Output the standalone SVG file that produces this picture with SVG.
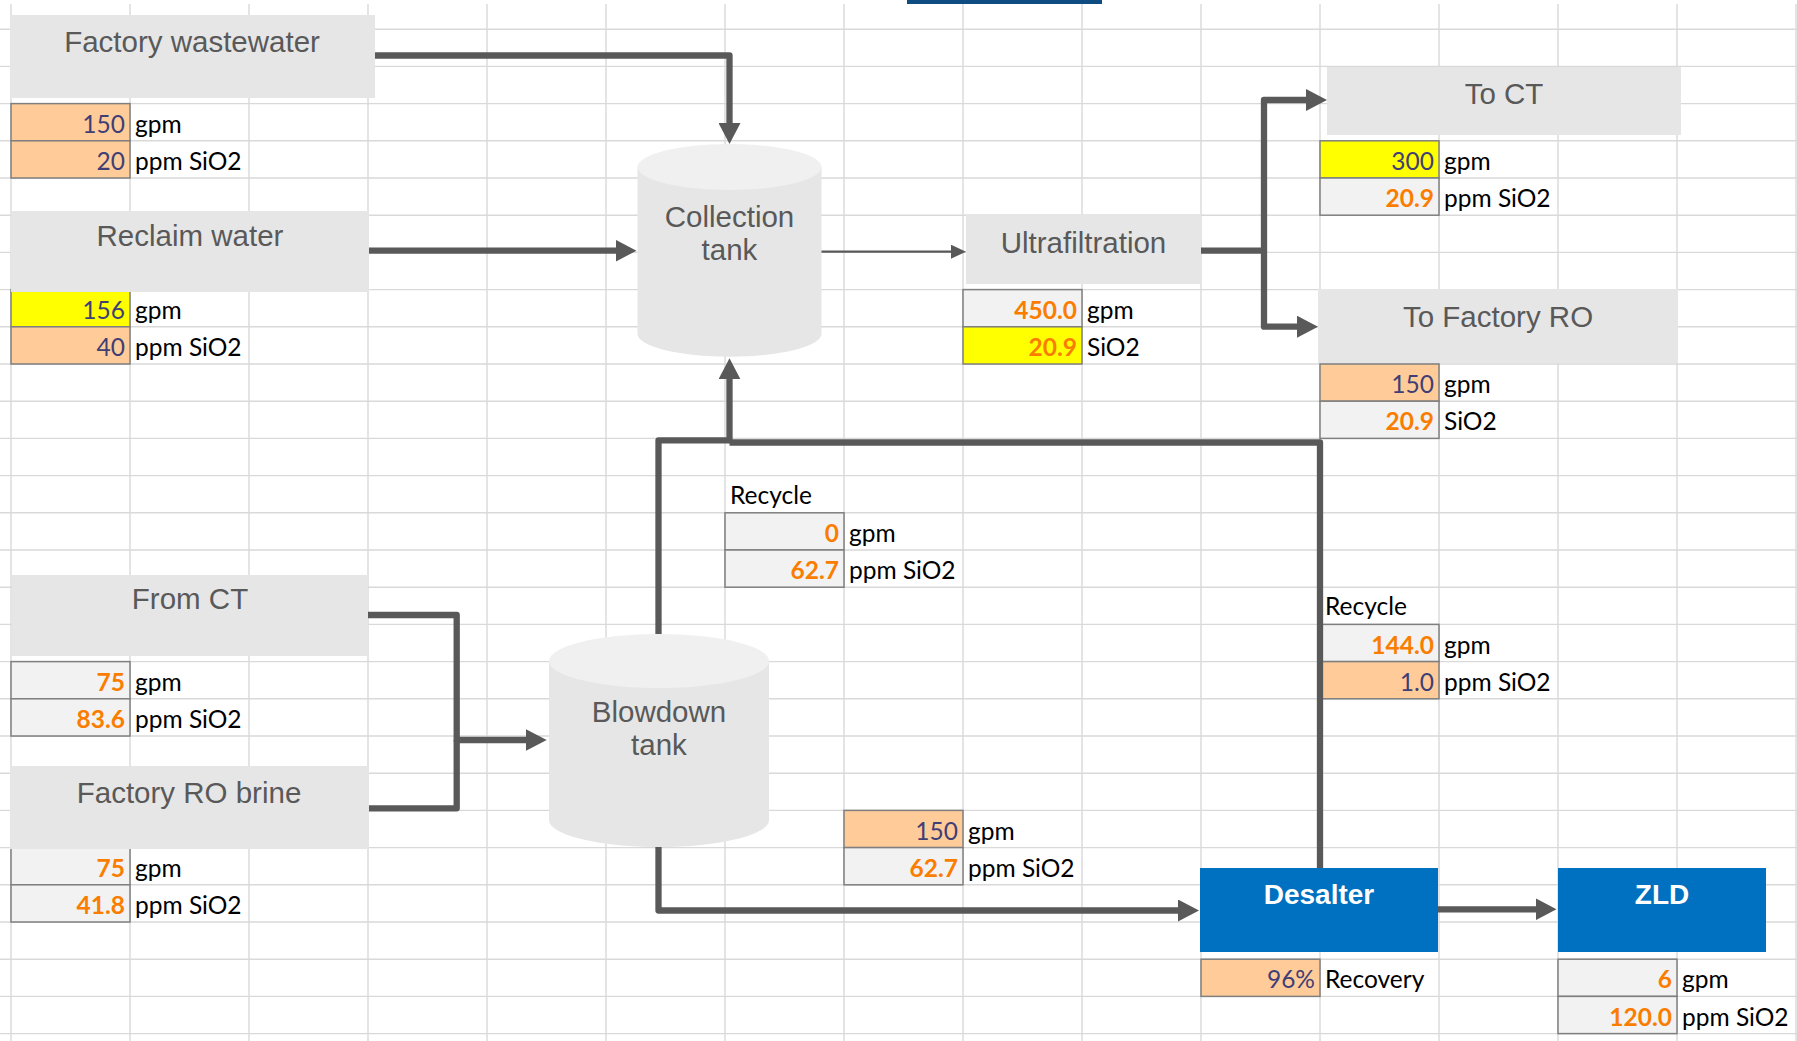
<svg xmlns="http://www.w3.org/2000/svg" width="1797" height="1041" viewBox="0 0 1797 1041">
<style>
.grid{fill:none;stroke:#D9D9D9;stroke-width:1.4}
.box{fill:#E6E6E6}
.top{fill:#F0F0F0}
.lbl{font-family:"Liberation Sans",Arial,sans-serif;font-size:29.5px;fill:#595959;text-anchor:middle}
.blue{fill:#0070C0}
.blt{font-family:"Liberation Sans",Arial,sans-serif;font-weight:bold;font-size:28px;fill:#FFFFFF;text-anchor:middle}
.inp{fill:#FFCC99;stroke:#7F7F7F;stroke-width:1.5}
.calc{fill:#F2F2F2;stroke:#7F7F7F;stroke-width:1.5}
.yel{fill:#FFFF00;stroke:#7F7F7F;stroke-width:1.5}
.ni{font-family:Lato,"Open Sans",sans-serif;font-size:24.5px;fill:#3F3F76;text-anchor:end}
.nc{font-family:Lato,"Open Sans",sans-serif;font-size:24.5px;fill:#FA7D00;font-weight:bold;text-anchor:end}
.u{font-family:Lato,"Open Sans",sans-serif;font-size:24.5px;fill:#000000}
.con{fill:none;stroke:#595959;stroke-width:6.3;stroke-linejoin:round}
.thin{fill:none;stroke:#595959;stroke-width:2.3}
</style>
<defs>
<marker id="ah" markerUnits="userSpaceOnUse" markerWidth="22" markerHeight="22" refX="11" refY="11" orient="auto">
<path d="M0,0 L21,11 L0,22 Z" fill="#595959"/>
</marker>
<marker id="ahs" markerUnits="userSpaceOnUse" markerWidth="16" markerHeight="14" refX="5" refY="7" orient="auto">
<path d="M0,0 L15,7 L0,14 Z" fill="#595959"/>
</marker>
</defs>
<rect x="0" y="0" width="1797" height="1041" fill="#FFFFFF"/>
<g id="grid" class="grid">
<path d="M11,4V1041M130,4V1041M249,4V1041M368,4V1041M487,4V1041M606,4V1041M725,4V1041M844,4V1041M963,4V1041M1082,4V1041M1201,4V1041M1320,4V1041M1439,4V1041M1558,4V1041M1677,4V1041M1796,4V1041"/>
<path d="M0,29.2H1797M0,66.4H1797M0,103.6H1797M0,140.8H1797M0,178H1797M0,215.2H1797M0,252.4H1797M0,289.6H1797M0,326.8H1797M0,364H1797M0,401.2H1797M0,438.4H1797M0,475.6H1797M0,512.8H1797M0,550H1797M0,587.2H1797M0,624.4H1797M0,661.6H1797M0,698.8H1797M0,736H1797M0,773.2H1797M0,810.4H1797M0,847.6H1797M0,884.8H1797M0,922H1797M0,959.2H1797M0,996.4H1797M0,1033.6H1797"/>
</g>
<rect x="907" y="0" width="195" height="4" fill="#0F4C81"/>

<g id="factory-wastewater">
<rect class="box" x="10" y="15" width="365" height="83"/>
<text class="lbl" x="192" y="52">Factory wastewater</text>
<rect class="inp" x="11" y="103.6" width="119" height="37.2"/>
<text class="ni" x="125" y="132.8">150</text><text class="u" x="135" y="132.8">gpm</text>
<rect class="inp" x="11" y="140.8" width="119" height="37.2"/>
<text class="ni" x="125" y="170">20</text><text class="u" x="135" y="170">ppm SiO2</text>
</g>

<g id="reclaim-water">
<rect class="yel" x="11" y="289.6" width="119" height="37.2"/>
<text class="ni" x="125" y="318.8">156</text><text class="u" x="135" y="318.8">gpm</text>
<rect class="inp" x="11" y="326.8" width="119" height="37.2"/>
<text class="ni" x="125" y="356">40</text><text class="u" x="135" y="356">ppm SiO2</text>
<rect class="box" x="11" y="211" width="358" height="81"/>
<text class="lbl" x="190" y="246">Reclaim water</text>
</g>

<g id="from-ct">
<rect class="box" x="12" y="575" width="356" height="81"/>
<text class="lbl" x="190" y="609">From CT</text>
<rect class="calc" x="11" y="661.6" width="119" height="37.2"/>
<text class="nc" x="125" y="690.8">75</text><text class="u" x="135" y="690.8">gpm</text>
<rect class="calc" x="11" y="698.8" width="119" height="37.2"/>
<text class="nc" x="125" y="728">83.6</text><text class="u" x="135" y="728">ppm SiO2</text>
</g>

<g id="factory-ro-brine">
<rect class="calc" x="11" y="847.6" width="119" height="37.2"/>
<text class="nc" x="125" y="876.8">75</text><text class="u" x="135" y="876.8">gpm</text>
<rect class="calc" x="11" y="884.8" width="119" height="37.2"/>
<text class="nc" x="125" y="914">41.8</text><text class="u" x="135" y="914">ppm SiO2</text>
<rect class="box" x="10" y="766" width="359" height="83"/>
<text class="lbl" x="189" y="803">Factory RO brine</text>
</g>

<g id="collection-tank">
<path class="box" d="M637.5,167 V333.7 A92,23 0 0 0 821.5,333.7 V167 Z"/>
<ellipse class="top" cx="729.5" cy="167" rx="92" ry="23"/>
<text class="lbl" x="729.5" y="227">Collection</text>
<text class="lbl" x="729.5" y="260">tank</text>
</g>

<g id="ultrafiltration">
<rect class="box" x="966" y="214" width="235" height="70"/>
<text class="lbl" x="1083.5" y="253">Ultrafiltration</text>
<rect class="calc" x="963" y="289.6" width="119" height="37.2"/>
<text class="nc" x="1077" y="318.8">450.0</text><text class="u" x="1087" y="318.8">gpm</text>
<rect class="yel" x="963" y="326.8" width="119" height="37.2"/>
<text class="nc" x="1077" y="356">20.9</text><text class="u" x="1087" y="356">SiO2</text>
</g>

<g id="to-ct">
<rect class="box" x="1327" y="67" width="354" height="68"/>
<text class="lbl" x="1504" y="104">To CT</text>
<rect class="yel" x="1320" y="140.8" width="119" height="37.2"/>
<text class="ni" x="1434" y="170">300</text><text class="u" x="1444" y="170">gpm</text>
<rect class="calc" x="1320" y="178" width="119" height="37.2"/>
<text class="nc" x="1434" y="207.2">20.9</text><text class="u" x="1444" y="207.2">ppm SiO2</text>
</g>

<g id="to-factory-ro">
<rect class="box" x="1318" y="289" width="360" height="74"/>
<text class="lbl" x="1498" y="327">To Factory RO</text>
<rect class="inp" x="1320" y="364" width="119" height="37.2"/>
<text class="ni" x="1434" y="393.2">150</text><text class="u" x="1444" y="393.2">gpm</text>
<rect class="calc" x="1320" y="401.2" width="119" height="37.2"/>
<text class="nc" x="1434" y="430.4">20.9</text><text class="u" x="1444" y="430.4">SiO2</text>
</g>

<g id="blowdown-tank">
<path class="box" d="M549,661 V820 A110,27 0 0 0 769,820 V661 Z"/>
<ellipse class="top" cx="659" cy="661" rx="110" ry="27"/>
<text class="lbl" x="659" y="722">Blowdown</text>
<text class="lbl" x="659" y="755">tank</text>
</g>

<g id="recycle-blowdown">
<text class="u" x="730" y="503.8">Recycle</text>
<rect class="calc" x="725" y="512.8" width="119" height="37.2"/>
<text class="nc" x="839" y="542">0</text><text class="u" x="849" y="542">gpm</text>
<rect class="calc" x="725" y="550" width="119" height="37.2"/>
<text class="nc" x="839" y="579.2">62.7</text><text class="u" x="849" y="579.2">ppm SiO2</text>
</g>

<g id="blowdown-out">
<rect class="inp" x="844" y="810.4" width="119" height="37.2"/>
<text class="ni" x="958" y="839.6">150</text><text class="u" x="968" y="839.6">gpm</text>
<rect class="calc" x="844" y="847.6" width="119" height="37.2"/>
<text class="nc" x="958" y="876.8">62.7</text><text class="u" x="968" y="876.8">ppm SiO2</text>
</g>

<g id="recycle-desalter">
<text class="u" x="1325" y="615.4">Recycle</text>
<rect class="calc" x="1320" y="624.4" width="119" height="37.2"/>
<text class="nc" x="1434" y="653.6">144.0</text><text class="u" x="1444" y="653.6">gpm</text>
<rect class="inp" x="1320" y="661.6" width="119" height="37.2"/>
<text class="ni" x="1434" y="690.8">1.0</text><text class="u" x="1444" y="690.8">ppm SiO2</text>
</g>

<g id="desalter">
<rect class="blue" x="1200" y="868" width="238" height="84"/>
<text class="blt" x="1319" y="904">Desalter</text>
<rect class="inp" x="1201" y="959.2" width="119" height="37.2"/>
<text class="ni" x="1315" y="988.4">96%</text><text class="u" x="1325" y="988.4">Recovery</text>
</g>

<g id="zld">
<rect class="blue" x="1558" y="868" width="208" height="84"/>
<text class="blt" x="1662" y="904">ZLD</text>
<rect class="calc" x="1558" y="959.2" width="119" height="37.2"/>
<text class="nc" x="1672" y="988.4">6</text><text class="u" x="1682" y="988.4">gpm</text>
<rect class="calc" x="1558" y="996.4" width="119" height="37.2"/>
<text class="nc" x="1672" y="1025.6">120.0</text><text class="u" x="1682" y="1025.6">ppm SiO2</text>
</g>

<g id="connectors">
<path class="con" d="M375,55.5 H729.5 V134" marker-end="url(#ah)"/>
<path class="con" d="M369,250.7 H626.5" marker-end="url(#ah)"/>
<path class="thin" d="M821.5,251.7 H956" marker-end="url(#ahs)"/>
<path class="con" d="M1201,250.7 H1264 V100 H1317" marker-end="url(#ah)"/>
<path class="con" d="M1264,250.7 V326.7 H1308" marker-end="url(#ah)"/>
<path class="con" d="M368,615 H456.7 V740 H536.7" marker-end="url(#ah)"/>
<path class="con" d="M369,808.3 H456.7 V740"/>
<path class="con" d="M658.5,634 V440.3 H729.5 V368.3" marker-end="url(#ah)"/>
<path class="con" d="M1320,868 V442.5 H729.5"/>
<path class="con" d="M658.5,847 V910.5 H1189" marker-end="url(#ah)"/>
<path class="con" d="M1438,909.3 H1546.5" marker-end="url(#ah)"/>
</g>
</svg>
